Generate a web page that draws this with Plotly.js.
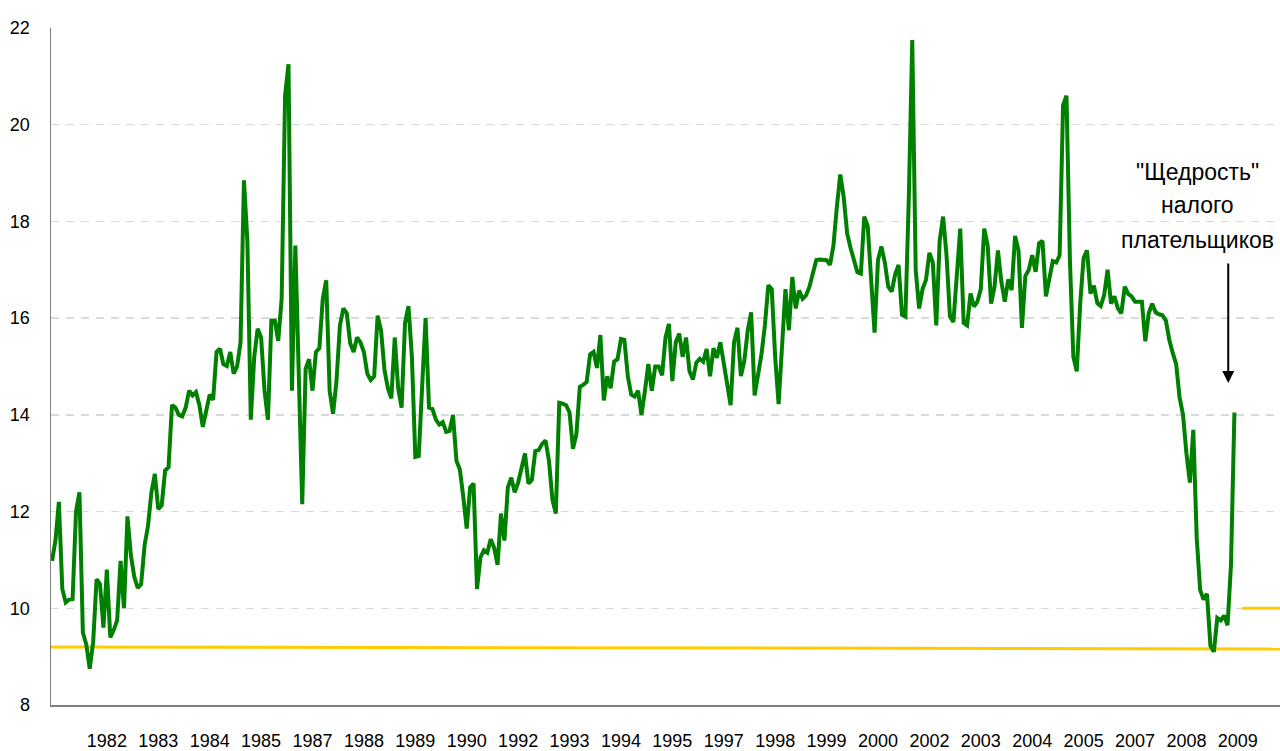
<!DOCTYPE html>
<html>
<head>
<meta charset="utf-8">
<script src="https://cdn.plot.ly/plotly-3.0.1.min.js"></script>
<style>html,body{margin:0;padding:0;background:#fff;}#chart{width:1280px;height:751px;}</style>
</head>
<body>
<div id="chart"></div>
<script>
// Series: value, one value per period (about monthly), 1981 - 2009
const seriesValues = [
  10.98, 11.4, 12.2, 10.4, 10.12, 10.18, 10.19, 12.0, 12.4, 9.5,
  9.25, 8.75, 9.3, 10.6, 10.5, 9.6, 10.8, 9.4, 9.55, 9.75,
  10.98, 10.0, 11.9, 11.1, 10.65, 10.42, 10.5, 11.3, 11.7, 12.4,
  12.78, 12.05, 12.13, 12.85, 12.92, 14.2, 14.15, 14.0, 13.97, 14.15,
  14.5, 14.4, 14.47, 14.2, 13.75, 14.1, 14.42, 14.31, 15.3, 15.37,
  15.05, 15.01, 15.3, 14.85, 15.0, 15.5, 18.85, 17.6, 13.9, 15.2,
  15.78, 15.6, 14.5, 13.9, 15.95, 15.95, 15.53, 16.4, 20.6, 21.25,
  14.5, 17.5, 14.5, 12.15, 14.95, 15.15, 14.5, 15.3, 15.38, 16.4,
  16.78, 14.5, 14.02, 14.7, 15.85, 16.2, 16.1, 15.48, 15.3, 15.6,
  15.5, 15.3, 14.85, 14.72, 14.8, 16.05, 15.75, 14.93, 14.55, 14.34,
  15.6, 14.55, 14.15, 15.9, 16.25, 15.2, 13.13, 13.15, 14.6, 16.0,
  14.15, 14.12, 13.9, 13.8, 13.85, 13.65, 13.67, 14.0, 13.05, 12.87,
  12.3, 11.65, 12.5, 12.58, 10.4, 11.05, 11.2, 11.15, 11.43, 11.25,
  10.9, 11.96, 11.4, 12.5, 12.7, 12.4, 12.6, 12.95, 13.2, 12.58,
  12.65, 13.25, 13.27, 13.4, 13.47, 13.05, 12.25, 11.96, 14.25, 14.23,
  14.2, 14.05, 13.3, 13.6, 14.58, 14.62, 14.68, 15.25, 15.3, 14.97,
  15.65, 14.3, 14.8, 14.55, 15.1, 15.15, 15.57, 15.55, 14.8, 14.42,
  14.38, 14.5, 14.0, 14.5, 15.05, 14.5, 15.0, 15.0, 14.82, 15.6,
  15.88, 14.7, 15.5, 15.68, 15.2, 15.6, 14.9, 14.73, 15.08, 15.16,
  15.1, 15.36, 14.8, 15.38, 15.18, 15.5, 15.1, 14.66, 14.2, 15.5,
  15.8, 14.8, 15.12, 15.75, 16.12, 14.4, 14.8, 15.25, 15.85, 16.68,
  16.6, 15.2, 14.22, 15.27, 16.6, 15.75, 16.85, 16.2, 16.57, 16.4,
  16.47, 16.65, 16.95, 17.2, 17.21, 17.21, 17.2, 17.1, 17.5, 18.3,
  18.97, 18.5, 17.75, 17.45, 17.18, 16.95, 16.92, 18.1, 17.9, 16.7,
  15.7, 17.2, 17.48, 17.15, 16.65, 16.55, 16.9, 17.1, 16.07, 16.03,
  18.5, 21.75, 17.0, 16.2, 16.6, 16.79, 17.35, 17.15, 15.85, 17.6,
  18.1, 17.3, 16.03, 15.92, 16.8, 17.85, 15.9, 15.85, 16.51, 16.24,
  16.34, 16.6, 17.85, 17.5, 16.3, 16.65, 17.4, 16.75, 16.34, 16.8,
  16.58, 17.7, 17.4, 15.8, 16.87, 17.0, 17.3, 16.96, 17.55, 17.6,
  16.45, 16.85, 17.18, 17.15, 17.3, 20.4, 20.6, 17.2, 15.2, 14.9,
  16.3, 17.25, 17.4, 16.51, 16.67, 16.31, 16.25, 16.48, 17.0, 16.3,
  16.45, 16.2, 16.1, 16.65, 16.5, 16.45, 16.34, 16.34, 16.34, 15.52,
  16.1, 16.3, 16.12, 16.08, 16.06, 15.95, 15.55, 15.28, 15.05, 14.36,
  14.0, 13.2, 12.6, 13.69, 11.45, 10.38, 10.18, 10.3, 9.22, 9.1,
  9.8, 9.75, 9.85, 9.65, 10.9, 14.05
];

// Category axis labels (one label every labelInterval periods, Excel style)
const tickLabels = ["1982","1983","1984","1985","1987","1988","1989","1990","1992","1993","1994","1995",
                    "1997","1998","1999","2000","2002","2003","2004","2005","2007","2008","2009"];
const firstLabelPeriod = 16;
const labelInterval = 15;

// Horizontal reference levels
const floorLevel = [9.2, 9.16];   // long yellow line (start, end)
const targetLevel = 10.0;         // short yellow line at the right

const annotationLines = ['"Щедрость"', 'налого', 'плательщиков'];

const n = seriesValues.length;
const periods = seriesValues.map((_, i) => i);
const xRange = [-0.3, 358.3];
const tickVals = tickLabels.map((_, k) => firstLabelPeriod + k * labelInterval);

const traces = [
  {
    x: [xRange[0], xRange[1]], y: floorLevel,
    mode: 'lines', line: {color: '#FFCC00', width: 3}, hoverinfo: 'skip'
  },
  {
    x: [n + 1.2, xRange[1]], y: [targetLevel, targetLevel],
    mode: 'lines', line: {color: '#FFCC00', width: 3}, hoverinfo: 'skip'
  },
  {
    x: periods, y: seriesValues,
    mode: 'lines', line: {color: '#008000', width: 4, shape: 'linear'}
  }
];

const font = {family: 'Liberation Sans, Arial, sans-serif', color: '#000'};

const textYs = [19.02, 18.33, 17.62];
const textAnns = annotationLines.map((t, k) => ({
  x: 334.2, y: textYs[k], xref: 'x', yref: 'y',
  text: t, showarrow: false,
  xanchor: 'center', yanchor: 'middle', align: 'center',
  font: {size: 23, family: font.family, color: '#000'}
}));

const layout = {
  width: 1280, height: 751,
  margin: {l: 51, r: 0, t: 28, b: 46, pad: 0},
  paper_bgcolor: '#fff', plot_bgcolor: '#fff',
  showlegend: false,
  font: font,
  xaxis: {
    range: xRange,
    tickmode: 'array', tickvals: tickVals, ticktext: tickLabels,
    showgrid: false, zeroline: false,
    showline: true, linecolor: '#808080', linewidth: 1.5,
    ticks: '', tickfont: {size: 18, family: font.family, color: '#000'},
    ticklabelstandoff: 19
  },
  yaxis: {
    range: [8, 22], tick0: 8, dtick: 2,
    showgrid: true, gridcolor: '#d9d9d9', gridwidth: 1.5, griddash: '8px,7px',
    zeroline: false,
    showline: true, linecolor: '#808080', linewidth: 1.5,
    ticks: '', tickfont: {size: 18, family: font.family, color: '#000'},
    ticklabelstandoff: 16
  },
  annotations: textAnns.concat([
    {
      x: 343.2, y: 14.66, xref: 'x', yref: 'y',
      text: '', showarrow: true, ax: 0, ay: -121,
      arrowhead: 2, arrowsize: 1.2, arrowwidth: 2, arrowcolor: '#000'
    }
  ])
};

Plotly.newPlot('chart', traces, layout, {staticPlot: true, displayModeBar: false});
</script>
</body>
</html>
